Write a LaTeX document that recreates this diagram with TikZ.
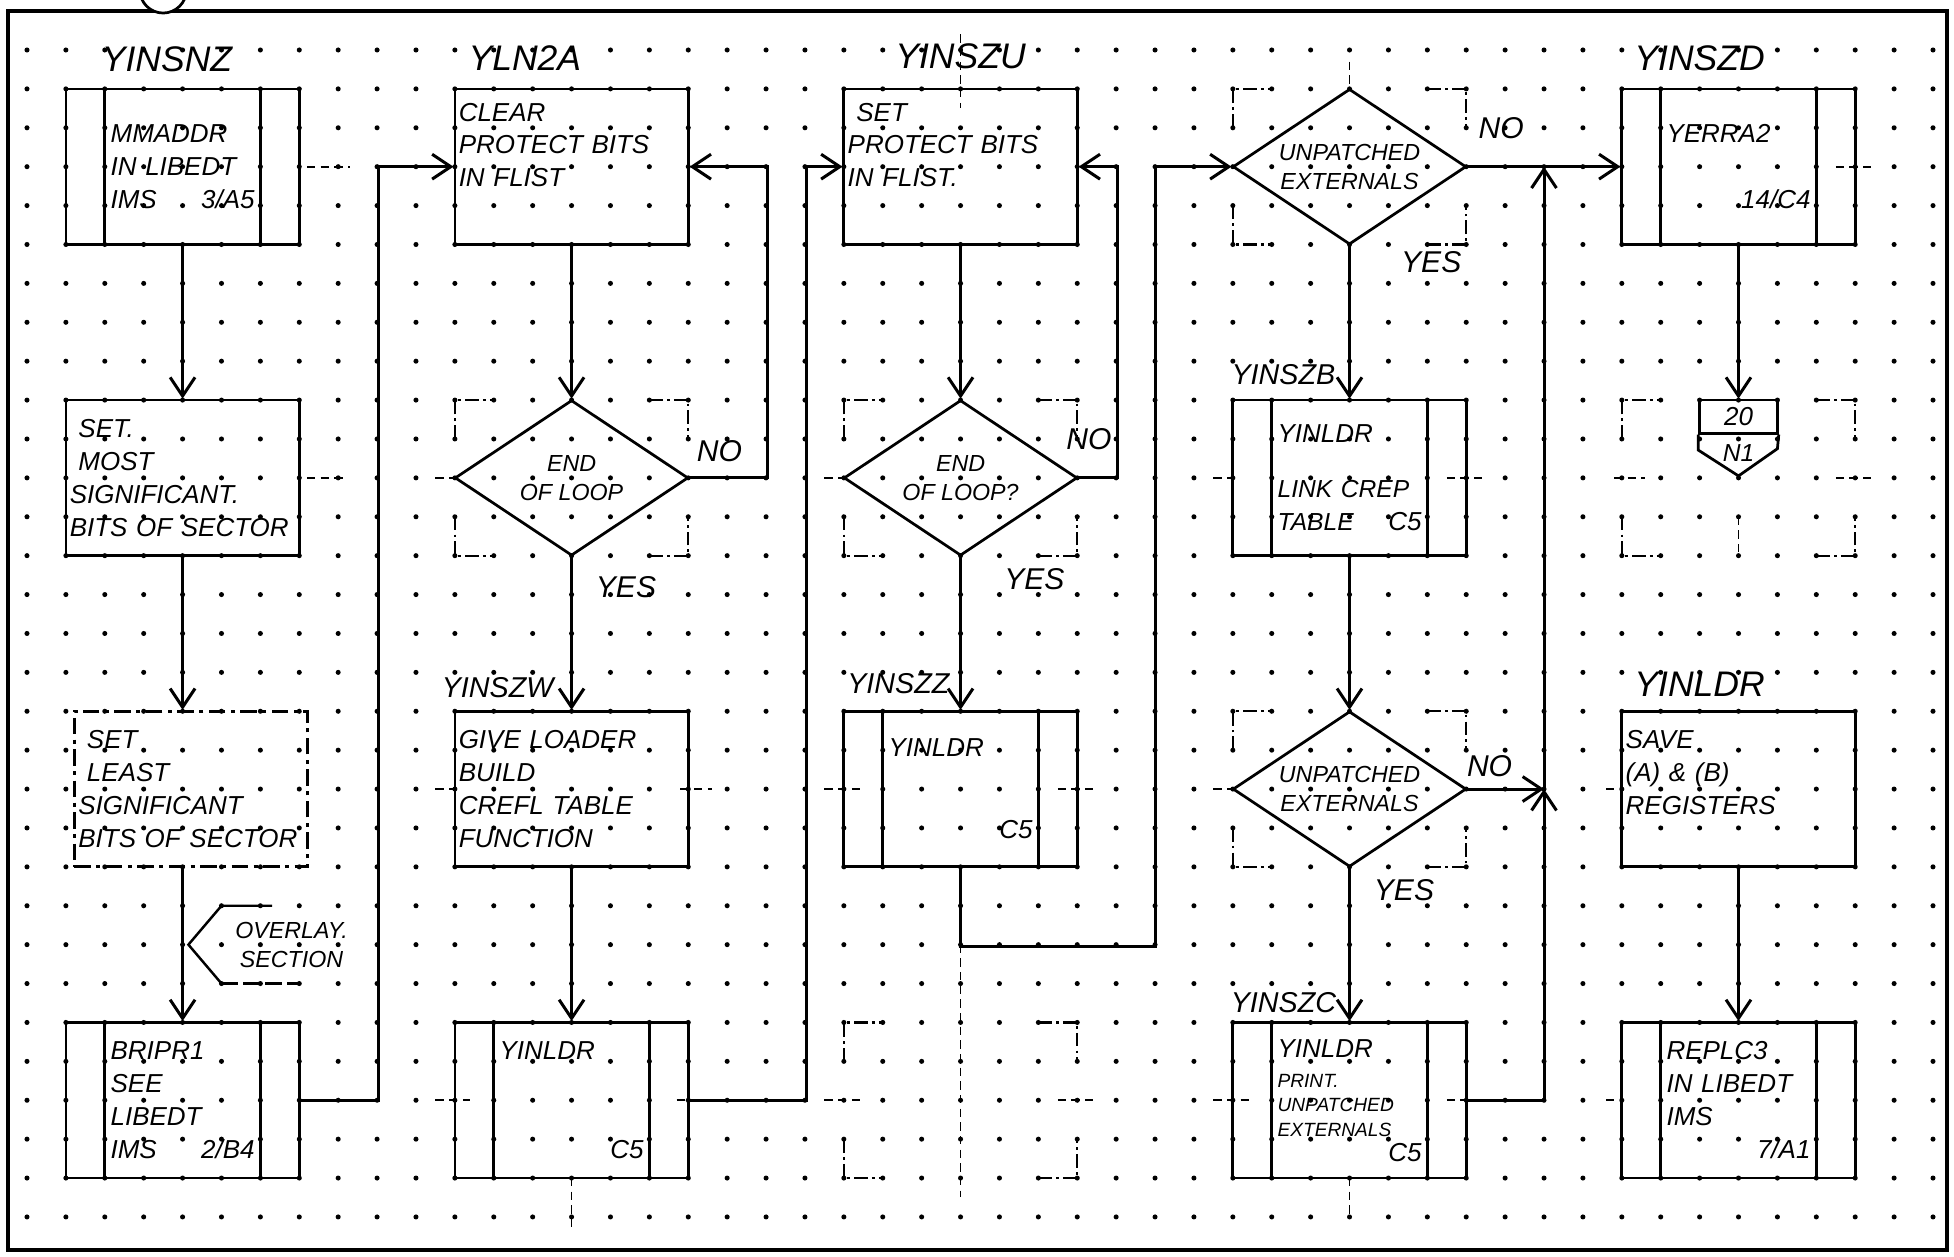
\documentclass[tikz,border=0pt]{standalone}
\usepackage{fontspec}
\setmainfont{Liberation Sans}
\usetikzlibrary{arrows.meta, shapes.geometric, calc}

\begin{document}
\begin{tikzpicture}[
  x=0.5cm, y=-0.5cm,
  >={Straight Barb[length=2.4mm, width=3.2mm]},
  font=\itshape\fontsize{9.5}{12}\selectfont,
  procbox/.style={draw, line width=1pt, minimum width=3cm, minimum height=2cm,
                  inner xsep=0.05cm, inner ysep=0.05cm, text width=2.9cm, align=left},
  predef/.style={procbox, inner xsep=0.575cm, text width=1.85cm,
                 path picture={\draw[line width=1pt]
                   ([xshift=0.5cm]path picture bounding box.north west) -- ([xshift=0.5cm]path picture bounding box.south west)
                   ([xshift=-0.5cm]path picture bounding box.north east) -- ([xshift=-0.5cm]path picture bounding box.south east);}},
  decision/.style={draw, line width=1pt, diamond, minimum width=3cm, minimum height=2cm, inner sep=0pt},
  dtext/.style={align=center, font=\itshape\fontsize{8.5}{10.5}\selectfont},
  lbl/.style={font=\itshape\fontsize{13}{15}\selectfont},
  sublbl/.style={font=\itshape\fontsize{10.5}{12}\selectfont},
  answer/.style={font=\itshape\fontsize{11}{13}\selectfont},
  flow/.style={->, line width=1.1pt},
  guide/.style={line width=0.8pt, dash pattern=on 5pt off 1.5pt on 1pt off 1.5pt},
  tmark/.style={line width=0.6pt, dash pattern=on 3pt off 2pt}
]
\useasboundingbox (-0.694,-1.285) rectangle (49.54,31.03);
\fill[white] (-0.694,-1.285) rectangle (49.54,31.03);

% dot grid of the form
\foreach \i in {0,...,49}
  \foreach \j in {0,...,30}
    \fill (\i,\j) circle[radius=0.065];

% template corners and centre marks
\foreach \x/\y in {11/9, 21/9, 31/1, 31/17, 41/9, 21/25} {
  \draw[guide] (\x,\y+1) -- (\x,\y) -- (\x+1,\y)
               (\x+5,\y) -- (\x+6,\y) -- (\x+6,\y+1)
               (\x,\y+3) -- (\x,\y+4) -- (\x+1,\y+4)
               (\x+5,\y+4) -- (\x+6,\y+4) -- (\x+6,\y+3);
}
\foreach \xa/\xb/\y in {7.2/8.3/3, 7.2/8.2/11, 10.5/11/19, 16.8/17.6/19, 10.5/11.4/27,
    16.7/17.2/27, 20.5/21.5/19, 26.5/27.5/19, 30.5/31/11, 36.5/37.5/11, 30.5/31.5/27,
    36.5/37/27, 46.5/47.5/3, 40.6/41/19, 40.6/41/27, 10.5/11/11, 20.5/21/11, 30.5/31/19,
    20.5/21.5/27, 26.5/27.5/27, 40.8/41.6/11, 46.5/47.4/11}
  \draw[tmark] (\xa,\y) -- (\xb,\y);
\foreach \x/\ya/\yb in {24/-0.4/1.5, 34/0.3/1, 24/23/29.5, 14/29/30.4, 34/29/30, 44/12/13}
  \draw[tmark] (\x,\ya) -- (\x,\yb);

% column 1
\node[predef] (mmaddr) at (4,3) {MMADDR\\IN LIBEDT\\IMS \hfill 3/A5};
\node[lbl] (mmaddrtag) at (3.6,0.25) {YINSNZ};
\node[procbox] (msbits) at (4,11) {\ SET.\\\ MOST\\SIGNIFICANT.\\\mbox{BITS OF SECTOR}};
\node[procbox, dash pattern=on 6pt off 2pt on 1.5pt off 2pt] (lsbits) at (4.22,19)
  {\ SET\\\ LEAST\\SIGNIFICANT\\\mbox{BITS OF SECTOR}};
\node[dtext] (overlay) at (6.8,23) {OVERLAY.\\SECTION};
\draw[line width=0.9pt] (6.3,22) -- (5,22) -- (4.15,23) -- (5,24);
\draw[line width=0.9pt, dash pattern=on 6pt off 2pt] (5,24) -- (7,24);
\node[predef] (bripr) at (4,27) {BRIPR1\\SEE\\LIBEDT\\IMS \hfill 2/B4};

% column 2
\node[procbox] (clear) at (14,3) {CLEAR\\PROTECT BITS\\IN FLIST\\[4pt]~};
\node[lbl] (cleartag) at (12.8,0.2) {YLN2A};
\node[decision, label={[dtext]center:END\\OF LOOP}] (loopa) at (14,11) {};
\node[procbox] (give) at (14,19) {GIVE LOADER\\BUILD\\CREFL TABLE\\FUNCTION};
\node[sublbl] (givetag) at (12.1,16.4) {YINSZW};
\node[predef] (ldra) at (14,27) {YINLDR\\[24pt]\hfill C5};

% column 3
\node[procbox] (setprot) at (24,3) {\ SET\\PROTECT BITS\\IN FLIST.\\[4pt]~};
\node[lbl] (setprottag) at (24,0.15) {YINSZU};
\node[decision, label={[dtext]center:END\\OF LOOP?}] (loopb) at (24,11) {};
\node[predef] (ldrb) at (24,19) {YINLDR\\[18pt]\hfill C5};
\node[sublbl] (ldrbtag) at (22.4,16.3) {YINSZZ};

% column 4
\node[decision, label={[dtext]center:UNPATCHED\\EXTERNALS}] (unpa) at (34,3) {};
\node[predef] (link) at (34,11) {YINLDR\\[8pt]{\small LINK CREP}\\{\small TABLE} \hfill C5};
\node[sublbl] (linktag) at (32.3,8.35) {YINSZB};
\node[decision, label={[dtext]center:UNPATCHED\\EXTERNALS}] (unpb) at (34,19) {};
\node[predef] (print) at (34,27)
  {YINLDR\\[-1pt]{\scriptsize PRINT.}\\[-3pt]{\scriptsize UNPATCHED}\\[-3pt]{\scriptsize EXTERNALS}\\[-3pt]\hfill C5};
\node[sublbl] (printtag) at (32.3,24.5) {YINSZC};
\coordinate (j1) at (39,19);
\coordinate (j2) at (39,3);

% column 5
\node[predef] (errbox) at (44,3) {YERRA2\\[12pt]\hfill 14/C4};
\node[lbl] (errtag) at (43,0.2) {YINSZD};
\node[draw, line width=1pt, minimum width=1cm, minimum height=0.425cm, inner sep=0pt] (offpg) at (44,9.425) {20};
\draw[line width=1pt] (offpg.south west) -- ++(0,0.4) -- (44,10.95) -- (45,10.25) -- (offpg.south east);
\node[font=\itshape\fontsize{9}{10}\selectfont] (offpgref) at (44,10.35) {N1};
\node[procbox] (save) at (44,19) {SAVE\\(A) \& (B)\\REGISTERS\\~};
\node[lbl] (savetag) at (43,16.3) {YINLDR};
\node[predef] (replc) at (44,27) {REPLC3\\IN LIBEDT\\IMS\\ \hfill 7/A1};

% answers
\node[answer] (noa) at (17.8,10.3) {NO};
\node[answer] (yesa) at (15.4,13.8) {YES};
\node[answer] (nob) at (27.3,10.0) {NO};
\node[answer] (yesb) at (25.9,13.6) {YES};
\node[answer] (noc) at (37.9,2.0) {NO};
\node[answer] (yesc) at (36.1,5.45) {YES};
\node[answer] (nod) at (37.6,18.4) {NO};
\node[answer] (yesd) at (35.4,21.6) {YES};

% flow lines
\draw[flow] (mmaddr) -- (msbits);
\draw[flow] (msbits.south) -- (msbits.south |- lsbits.north);
\draw[flow] (bripr.north |- lsbits.south) -- (bripr.north);
\draw[flow] (bripr.east) -- ++(2,0) |- (clear.west);

\draw[flow] (clear) -- (loopa);
\draw[flow] (loopa.east) -- ++(2,0) |- (clear.east);
\draw[flow] (loopa.south) -- (give.north);
\draw[flow] (give) -- (ldra);
\draw[flow] (ldra.east) -- ++(3,0) |- (setprot.west);

\draw[flow] (setprot) -- (loopb);
\draw[flow] (loopb.east) -- ++(1,0) |- (setprot.east);
\draw[flow] (loopb.south) -- (ldrb.north);
\draw[flow] (ldrb.south) -- ++(0,2) -- ++(5,0) |- (unpa.west);

\draw[flow] (unpa.east) -- (errbox.west);
\draw[flow] (unpa.south) -- (link.north);
\draw[flow] (link.south) -- (unpb.north);
\draw[flow] (unpb.south) -- (print.north);
\draw[flow] (unpb.east) -- (j1);
\draw[flow] (print.east) -| (j1);
\draw[flow] (j1) -- (j2);

\draw[flow] (errbox.south) -- (offpg.north);
\draw[flow] (save) -- (replc);

% sheet edge and binder hole
\draw[line width=1.7pt] (-0.49,-1.0) rectangle (49.36,30.85);
\filldraw[fill=white, line width=1pt] (3.5,-1.55) circle[radius=0.6];
\end{tikzpicture}
\end{document}
